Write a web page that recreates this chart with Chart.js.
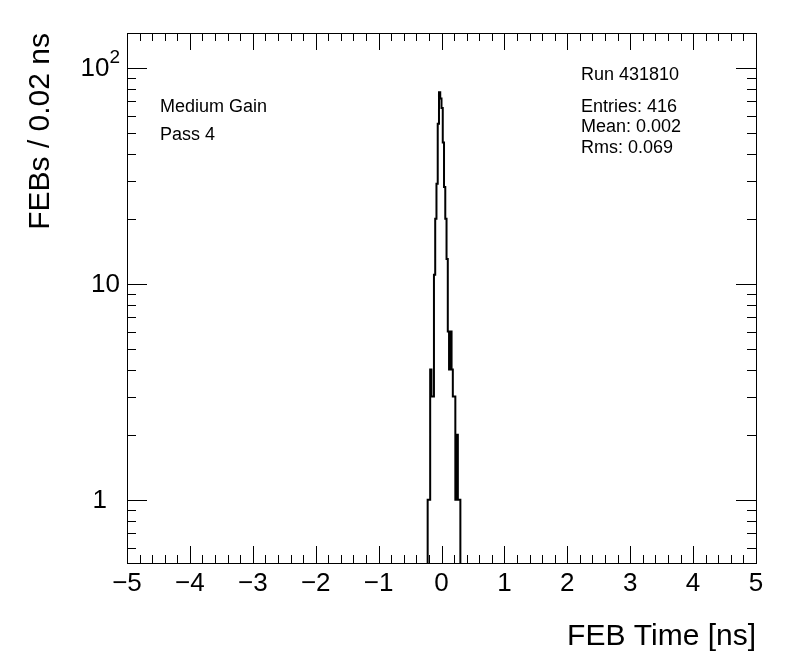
<!DOCTYPE html>
<html>
<head>
<meta charset="utf-8">
<script src="https://cdn.jsdelivr.net/npm/chart.js@4/dist/chart.umd.min.js"></script>
<style>
  body { margin: 0; background: #fff; }
  canvas { display: block; }
</style>
</head>
<body>
<canvas id="febChart" width="796" height="672"></canvas>
<script>
// histogram of FEB times, bins of 0.02 ns
const binStart = -0.22;
const binWidth = 0.02;
const febCounts = [1, 1, 4, 3, 3, 11, 20, 29, 55, 77, 72, 65, 45, 28, 20, 13, 6, 4, 6, 4, 3, 3, 1, 2, 1, 1];

const xTicks = [-5, -4, -3, -2, -1, 0, 1, 2, 3, 4, 5];
const xTickLabels = ['\u22125', '\u22124', '\u22123', '\u22122', '\u22121', '0', '1', '2', '3', '4', '5'];
const yTicks = [1, 10, 100];
const yTickBase = ['1', '10', '10'];
const yTickExp = ['', '', '2'];

const leftText = ['Medium Gain', 'Pass 4'];
const runText = 'Run 431810';
const statsText = ['Entries: 416', 'Mean: 0.002', 'Rms: 0.069'];

const FONT = '"Liberation Sans", Arial, Helvetica, sans-serif';
const TINY = 1e-3; // below the axis, gets clipped

// outline points of the histogram
const points = [{ x: binStart, y: TINY }];
febCounts.forEach((c, i) => {
  points.push({ x: binStart + i * binWidth, y: c });
});
const lastEdge = binStart + febCounts.length * binWidth;
points.push({ x: lastEdge, y: febCounts[febCounts.length - 1] });
points.push({ x: lastEdge, y: TINY });

const rootFrame = {
  id: 'rootFrame',
  afterDraw(chart) {
    const ctx = chart.ctx;
    const a = chart.chartArea;
    const xs = chart.scales.x;
    const ys = chart.scales.y;
    ctx.save();
    ctx.strokeStyle = '#000';
    ctx.fillStyle = '#000';
    ctx.lineWidth = 1;

    // frame
    ctx.strokeRect(Math.round(a.left) + 0.5, Math.round(a.top) + 0.5,
      Math.round(a.right - a.left), Math.round(a.bottom - a.top));

    // x ticks, bottom and top
    ctx.beginPath();
    for (let i = -25; i <= 25; i++) {
      const px = Math.round(xs.getPixelForValue(i / 5)) + 0.5;
      const len = (i % 5 === 0) ? 17 : 8;
      ctx.moveTo(px, a.bottom); ctx.lineTo(px, a.bottom - len);
      ctx.moveTo(px, a.top); ctx.lineTo(px, a.top + len);
    }
    // y log ticks, left and right
    for (let d = 0.1; d <= 100; d *= 10) {
      for (let m = 1; m <= 9; m++) {
        const v = m * d;
        if (v < ys.min || v > ys.max) continue;
        const py = Math.round(ys.getPixelForValue(v)) + 0.5;
        const len = (m === 1) ? 20 : 9;
        ctx.moveTo(a.left, py); ctx.lineTo(a.left + len, py);
        ctx.moveTo(a.right, py); ctx.lineTo(a.right - len, py);
      }
    }
    ctx.stroke();

    // x tick labels
    ctx.font = '26px ' + FONT;
    ctx.textAlign = 'center';
    ctx.textBaseline = 'middle';
    xTicks.forEach((v, i) => {
      ctx.fillText(xTickLabels[i], xs.getPixelForValue(v), a.bottom + 21);
    });

    // y tick labels
    ctx.textAlign = 'right';
    yTicks.forEach((v, i) => {
      const py = ys.getPixelForValue(v);
      let right = a.left - 7;
      if (yTickExp[i]) {
        ctx.font = '19px ' + FONT;
        ctx.fillText(yTickExp[i], right, py - 10);
        right -= ctx.measureText(yTickExp[i]).width;
      }
      ctx.font = '26px ' + FONT;
      if (yTickBase[i] === '1') right -= 13;
      ctx.fillText(yTickBase[i], right, py + 1);
    });

    // axis titles
    ctx.font = '30px ' + FONT;
    ctx.textAlign = 'right';
    ctx.fillText('FEB Time [ns]', a.right, 637);
    ctx.save();
    ctx.translate(41, a.top);
    ctx.rotate(-Math.PI / 2);
    ctx.textAlign = 'right';
    ctx.fillText('FEBs / 0.02 ns', 0, 0);
    ctx.restore();

    // labels inside the frame
    ctx.font = '18px ' + FONT;
    ctx.textAlign = 'left';
    ctx.fillText(leftText[0], 160, 107);
    ctx.fillText(leftText[1], 160, 135);
    ctx.fillText(runText, 581, 75);
    statsText.forEach((t, i) => ctx.fillText(t, 581, 107 + i * 20.5));
    ctx.restore();
  }
};

new Chart(document.getElementById('febChart'), {
  type: 'line',
  data: {
    datasets: [{
      data: points,
      stepped: 'before',
      borderColor: '#000',
      borderWidth: 2,
      pointRadius: 0,
      fill: false,
      tension: 0,
      clip: 0
    }]
  },
  options: {
    responsive: false,
    animation: false,
    layout: { padding: { left: 127, right: 40, top: 33, bottom: 109 } },
    plugins: { legend: { display: false }, tooltip: { enabled: false } },
    scales: {
      x: { type: 'linear', min: -5, max: 5, display: false },
      y: { type: 'logarithmic', min: 0.509, max: 144.7, display: false }
    }
  },
  plugins: [rootFrame]
});
</script>
</body>
</html>
